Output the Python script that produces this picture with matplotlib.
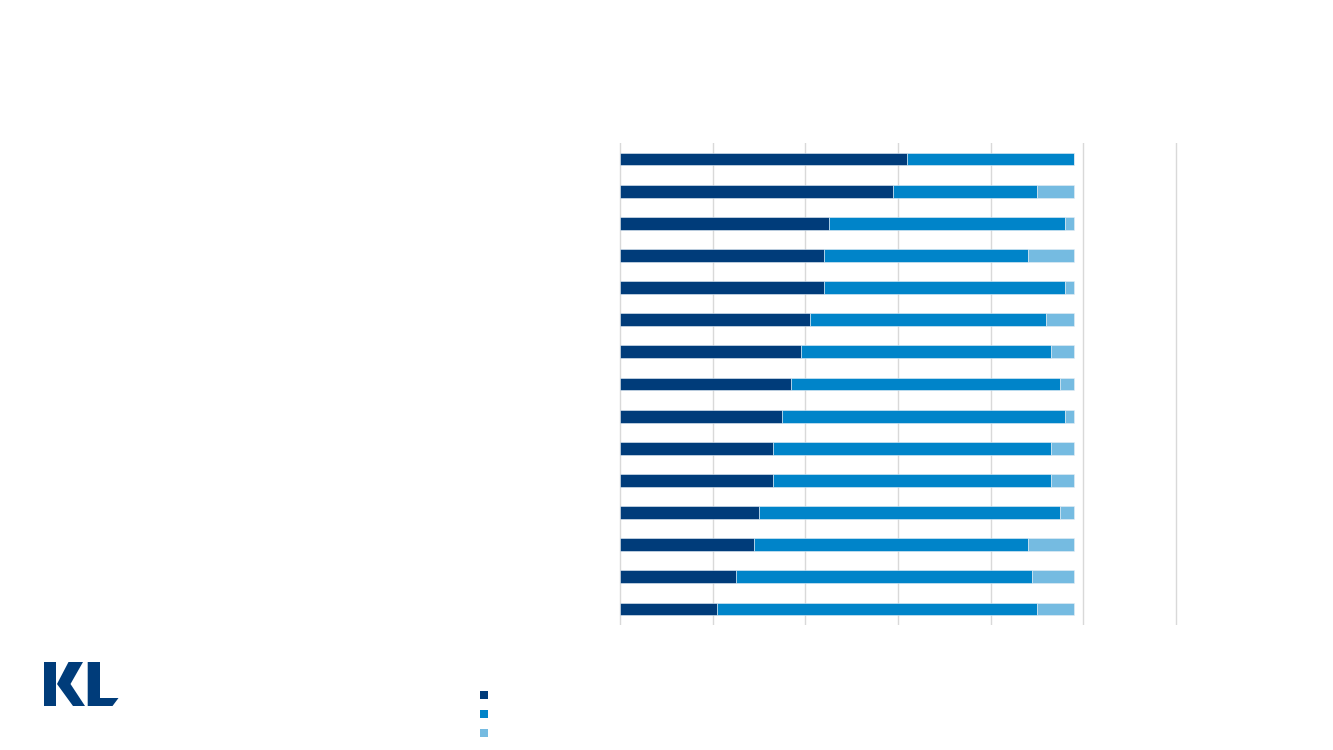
import numpy as np
import matplotlib.pyplot as plt
from matplotlib.patches import Polygon, Rectangle

# stacked shares per row (top to bottom)
dark = [62, 59, 45, 44, 44, 41, 39, 37, 35, 33, 33, 30, 29, 25, 21]
mid = [36, 31, 51, 44, 52, 51, 54, 58, 61, 60, 60, 65, 59, 64, 69]
light = [0, 8, 2, 10, 2, 6, 5, 3, 2, 5, 5, 3, 10, 9, 8]

colors = ['#003C7A', '#0084C9', '#75BBE1']
grid_ticks = [0, 20, 40, 60, 80, 100, 120]

fig = plt.figure(figsize=(13.33, 7.5), dpi=100)
px = 556 / 120  # pixels per unit
ax = fig.add_axes([(620 - 0.5 * px) / 1333, 1 - 625 / 750, 121 * px / 1333, 482 / 750])

y = np.arange(len(dark))
d = np.array(dark)
m = np.array(mid)
l = np.array(light)
ax.barh(y, d, height=0.4, color=colors[0], edgecolor='#E6EEF6', linewidth=0.4, zorder=3)
ax.barh(y, m, left=d, height=0.4, color=colors[1], edgecolor='#E6EEF6', linewidth=0.4, zorder=3)
ax.barh(y, l, left=d + m, height=0.4, color=colors[2], edgecolor='#E6EEF6', linewidth=0.4, zorder=3)

ax.set_xlim(-0.5, 120.5)
ax.set_ylim(len(dark) - 0.5, -0.5)
ax.set_xticks(grid_ticks)
ax.set_yticks([])
ax.set_xticklabels([])
ax.tick_params(length=0)
ax.grid(axis='x', color='#D9D9D9', linewidth=1.0, zorder=0)
for s in ax.spines.values():
    s.set_visible(False)

# overlay in pixel coords for logo and legend keys
ov = fig.add_axes([0, 0, 1, 1], zorder=-1)
ov.set_xlim(0, 1333)
ov.set_ylim(750, 0)
ov.axis('off')

navy = '#003C7A'
ov.add_patch(Rectangle((43.5, 662), 12.3, 44, color=navy, lw=0))
ov.add_patch(Polygon([(68.5, 662), (83, 662), (70.5, 684), (85, 706), (73, 706), (57, 684)],
                     closed=True, color=navy, lw=0))
ov.add_patch(Polygon([(87.7, 662), (100, 662), (100, 698), (118.5, 698), (112.5, 706), (87.7, 706)],
                     closed=True, color=navy, lw=0))

for c, yy in zip(colors, [691, 710, 729]):
    ov.add_patch(Rectangle((480, yy), 8, 8, color=c, lw=0))

fig.savefig('out.png', dpi=100)
